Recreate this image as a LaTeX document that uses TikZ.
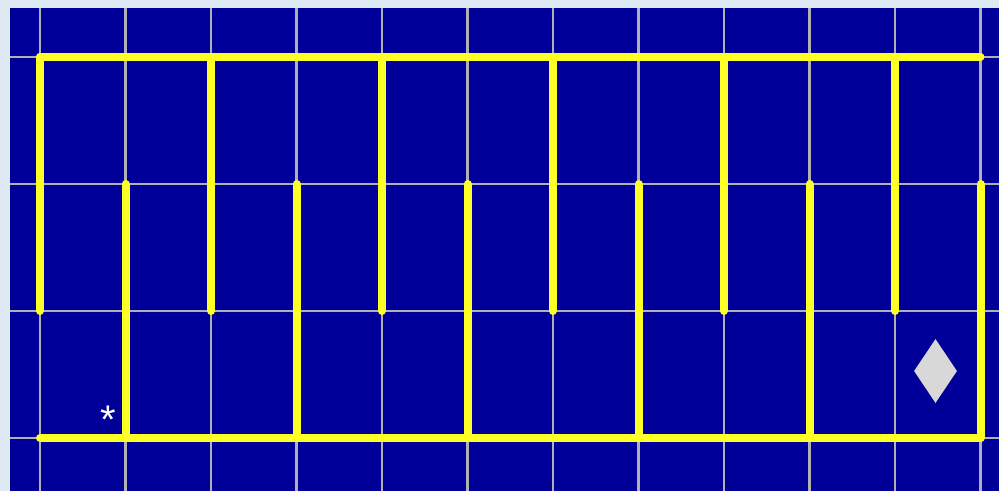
\documentclass[tikz,border=0pt]{standalone}
\usepackage{fontspec}
\setmainfont{Liberation Sans}
\usetikzlibrary{shapes.geometric}
\definecolor{frame}{RGB}{222,233,243}
\definecolor{navy}{RGB}{0,0,152}
\definecolor{gridgray}{RGB}{176,176,184}
\definecolor{wallyellow}{RGB}{255,255,40}
\definecolor{gem}{RGB}{216,216,216}
\tikzset{
  gridline/.style={draw=gridgray, line width=2.2pt},
  wall/.style={draw=wallyellow, line width=8pt, line cap=round},
  gemshape/.style={diamond, fill=gem, draw=none, minimum width=43pt, minimum height=64pt, inner sep=0pt},
  startmark/.style={text=white, inner sep=0pt, font=\fontsize{40}{40}\selectfont}
}
\begin{document}
\begin{tikzpicture}[x=1pt,y=-1pt]
\useasboundingbox (0,0) rectangle (999,491);
\fill[frame] (0,0) rectangle (999,491);
\fill[navy] (10,8) rectangle (999,491);
% grid
\foreach \i in {0,...,11} {
  \draw[gridline] ({40+85.5*\i},8) -- ({40+85.5*\i},491);
}
\foreach \j in {0,...,3} {
  \draw[gridline] (10,{57+127*\j}) -- (999,{57+127*\j});
}
% walls
\draw[wall] (40,57) -- (980.5,57);
\draw[wall] (40,438) -- (980.5,438);
\foreach \i in {0,2,4,6,8,10} {
  \draw[wall] ({40+85.5*\i},57) -- ({40+85.5*\i},311);
}
\foreach \i in {1,3,5,7,9,11} {
  \draw[wall] ({40+85.5*\i},184) -- ({40+85.5*\i},438);
}
% markers
\node[startmark] (start) at (108,420) {*};
\node[gemshape] (gem) at (935.5,371) {};
\end{tikzpicture}
\end{document}
